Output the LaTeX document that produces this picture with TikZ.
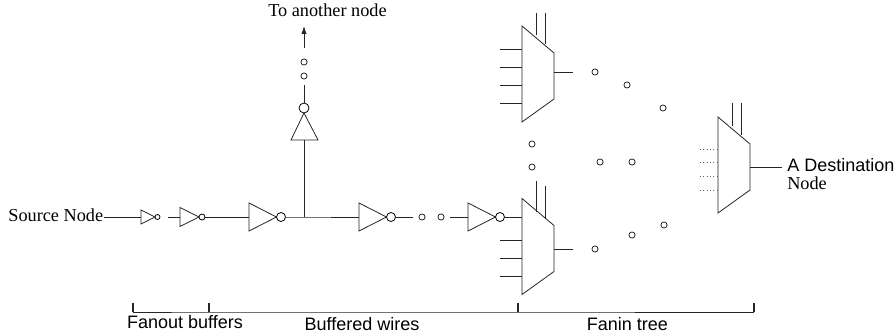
\documentclass[tikz,border=0pt]{standalone}
\usepackage{fontspec}
\setmainfont{Liberation Serif}
\setsansfont{Liberation Sans}
\usetikzlibrary{arrows.meta}
\tikzset{
  wire/.style={line width=0.6pt,draw=black!85},
  bub/.style={circle,draw=black,line width=0.6pt,inner sep=0pt,minimum size=#1*1.5pt,fill=white},
  dotc/.style={circle,draw=black!85,line width=0.6pt,inner sep=0pt,minimum size=4.6pt},
  serif/.style={font=\fontsize{13.7pt}{15pt}\selectfont,inner sep=0pt},
  sans/.style={font=\sffamily\fontsize{13.5pt}{15pt}\selectfont,inner sep=0pt},
}
% \invr{name}{x base}{half height}{x tip}{bubble r}{y}
\newcommand{\invr}[6]{%
  \coordinate (#1) at (#2,#6);
  \draw[wire] (#2,#6-#3) -- (#4,#6) -- (#2,#6+#3) -- cycle;
  \node[bub=#5] (#1o) at (#4+#5,#6) {};
}
% \muxr{name}{left x}{top y}{right x}{output y}
\newcommand{\muxr}[5]{%
  \draw[wire] (#2,#3) -- (#4,#3+27) -- (#4,#3+73) -- (#2,#3+96) -- cycle;
  \coordinate (#1e) at (#4,#5);
}
\begin{document}
\begin{tikzpicture}[x=0.75pt,y=-0.75pt]
\useasboundingbox (0,0) rectangle (896,335);
% labels
\node[serif,anchor=base east] (src) at (103.5,221.5) {Source Node};
\node[serif,anchor=base] (ton) at (327.5,17) {To another node};
\node[sans,anchor=base west] (dst) at (787,171) {A Destination};
\node[serif,anchor=base west] (dst2) at (787,189) {Node};
\node[sans,anchor=base] (lf) at (185,328.5) {Fanout buffers};
\node[sans,anchor=base] (lb) at (362,330) {Buffered wires};
\node[sans,anchor=base] (lt) at (627.5,330.5) {Fanin tree};
% inverters
\invr{i1}{141}{7}{155}{2.5}{217}
\invr{i2}{180}{9.5}{199}{3}{217}
\invr{i3}{249}{14}{276.5}{4.5}{217}
\invr{i4}{359}{14}{386.5}{4.5}{217}
\invr{i5}{468}{14}{495.5}{4.5}{217}
\coordinate (j) at (304,217);
\draw[wire] (src.east |- i1) -- (i1);
\coordinate (s2) at (168,217);
\draw[wire] (s2) -- (i2);
\draw[wire] (i2o) -- (i3);
\draw[wire] (i3o) -- (j) -- (i4);
\coordinate (w1) at (413,217);
\coordinate (w2) at (450,217);
\draw[wire] (i4o) -- (w1);
\node[dotc] (d1) at (422,217) {};
\node[dotc] (d2) at (441,217) {};
\draw[wire] (w2) -- (i5);
% up branch
\coordinate (ub) at (304,140);
\draw[wire] (291,140) -- (318,140) -- (304,113) -- cycle;
\node[bub=5] (uo) at (304,108) {};
\draw[wire] (j) -- (ub);
\coordinate (u1) at (304,85);
\draw[wire] (uo) -- (u1);
\node[dotc] (d3) at (304,76) {};
\node[dotc] (d4) at (304,62) {};
\coordinate (u2) at (304,48);
\coordinate (u3) at (304,26);
\draw[wire,-{Latex[length=6pt,width=4pt]}] (u2) -- (u3);
% muxes
\muxr{b}{522}{198.5}{554}{249}
\coordinate (bw) at (522,217);
\draw[wire] (i5o) -- (bw);
\foreach \n/\y in {1/240,2/258,3/276}{
  \coordinate (bi\n) at (522,\y);
  \draw[wire] (500,\y) -- (bi\n);
}
\draw[wire] (536,181) -- (536,212);
\draw[wire] (545,186) -- (545,218);
\coordinate (bo) at (573,249);
\draw[wire] (be) -- (bo);
\muxr{t}{522}{26}{554}{72}
\foreach \y in {49,67,85,103}{
  \draw[wire] (500,\y) -- (522,\y);
}
\draw[wire] (536,13) -- (536,35);
\draw[wire] (545,13) -- (545,44);
\coordinate (to) at (573,72);
\draw[wire] (te) -- (to);
\muxr{d}{718}{117}{750}{167}
\foreach \y in {149,162,176,190}{
  \draw[line width=0.5pt,draw=black!60,dotted] (700,\y) -- (717,\y);
}
\draw[wire] (732,103) -- (732,126);
\draw[wire] (741,103) -- (741,135);
\coordinate (do) at (782,167);
\draw[wire] (de) -- (do);
% tree dots
\foreach \n/\x/\y in {a/595/72,b/627/85,c/663/108,e/532/144,f/532/167,g/600/162,h/632/162,i/595/249,j/632/235,k/664/225}{
  \node[dotc] (q\n) at (\x,\y) {};
}
% bracket
\coordinate (k1) at (133,312);
\coordinate (k2) at (209,312);
\coordinate (k3) at (518,312);
\coordinate (k4) at (754,312);
\draw[wire] (k1) -- (k2) -- (k3) -- (k4);
\foreach \k in {k1,k2,k3,k4}{ \draw[wire,line width=0.8pt] (\k) -- ++(0,-9); }
\end{tikzpicture}
\end{document}
